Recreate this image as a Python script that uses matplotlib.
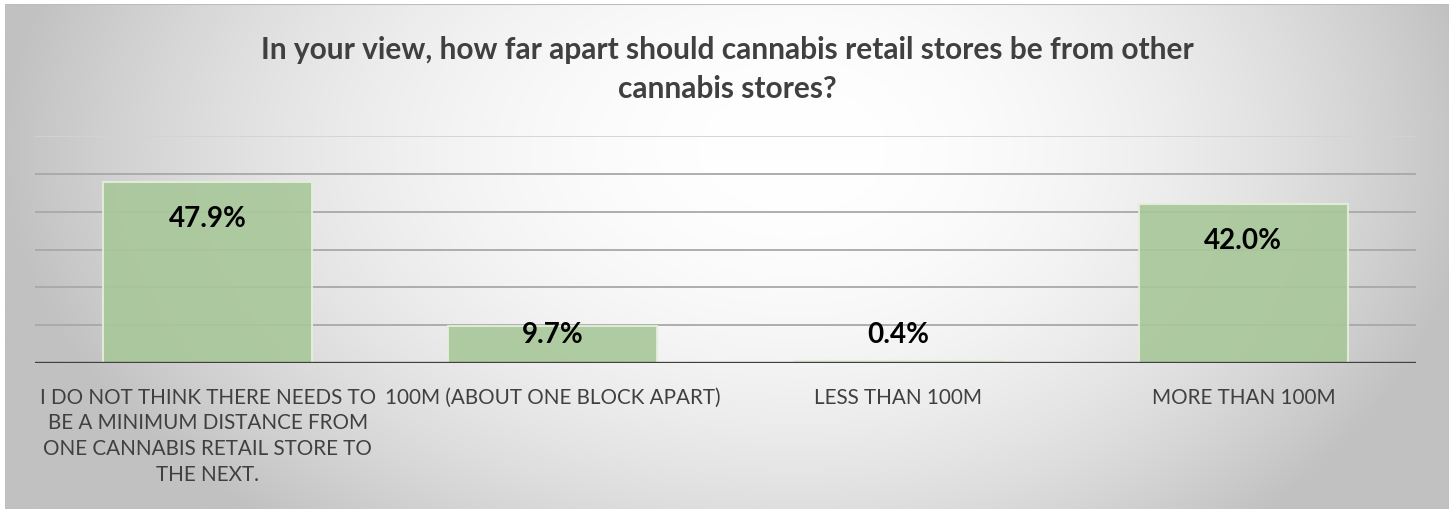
import numpy as np
import matplotlib.pyplot as plt

categorias = [
    "I DO NOT THINK THERE NEEDS TO\nBE A MINIMUM DISTANCE FROM\nONE CANNABIS RETAIL STORE TO\nTHE NEXT.",
    "100M (ABOUT ONE BLOCK APART)",
    "LESS THAN 100M",
    "MORE THAN 100M",
]
valores = [47.9, 9.7, 0.4, 42.0]
etiquetas = ["47.9%", "9.7%", "0.4%", "42.0%"]
titulo = ("In your view, how far apart should cannabis retail stores be from other\n"
          "cannabis stores?")

W, H = 1449, 510
fig = plt.figure(figsize=(W / 100, H / 100), dpi=100, facecolor="white")

# fondo con degradado radial (blanco en el centro, gris en los bordes)
bg = fig.add_axes([5 / W, 0, 1 - 5 / W, 505 / H])
xs = np.linspace(5, W, 600)
ys = np.linspace(5, H, 220)
X, Y = np.meshgrid(xs, ys)
cx, cy = 800, 150
wx = np.where(X < cx, 800, 680)
r = np.sqrt(((X - cx) / wx) ** 2 + ((Y - cy) / 500) ** 2)
gris = (255 - 62 * np.clip(r, 0, 1) ** 2) / 255
bg.imshow(np.dstack([gris, gris, gris]), aspect="auto", extent=[0, 1, 0, 1])
bg.set_xlim(0, 1)
bg.set_ylim(0, 1)
bg.axhline(1, color="#bdbdbd", lw=1.5)
bg.axis("off")

ax = fig.add_axes([35 / W, 146 / H, (1416 - 35) / W, (373 - 146) / H])
ax.patch.set_alpha(0)

x = np.arange(len(valores))
for yv in range(10, 61, 10):
    ax.axhline(yv, color="#d3d3d3" if yv == 60 else "#a8a8a8", lw=1.3, zorder=1)

ax.bar(x, valores, width=0.605, color="#a8c799", alpha=0.9,
       edgecolor="#e4efdc", linewidth=1.5, zorder=2)
ax.axhline(0, color="#404040", lw=2.4, zorder=3)

for xi, v, txt in zip(x, valores, etiquetas):
    ax.text(xi, max(v - 9.5, 7.6), txt, ha="center", va="center",
            fontsize=20, fontweight="bold", family="Lato", color="black", zorder=4)

ax.set_xlim(-0.5, len(valores) - 0.5)
ax.set_ylim(0, 60)
ax.set_yticks([])
ax.set_xticks(x)
ax.set_xticklabels(categorias, fontsize=14.9, family="Lato", color="#404040",
                   linespacing=1.36)
ax.tick_params(axis="x", length=0, pad=17)
for s in ax.spines.values():
    s.set_visible(False)

fig.text(727 / W, 1 - 69.5 / H, titulo, ha="center", va="center", fontsize=21.5,
         fontweight="bold", family="Lato", color="#404040", linespacing=1.45)

fig.savefig("out.png", dpi=100)
